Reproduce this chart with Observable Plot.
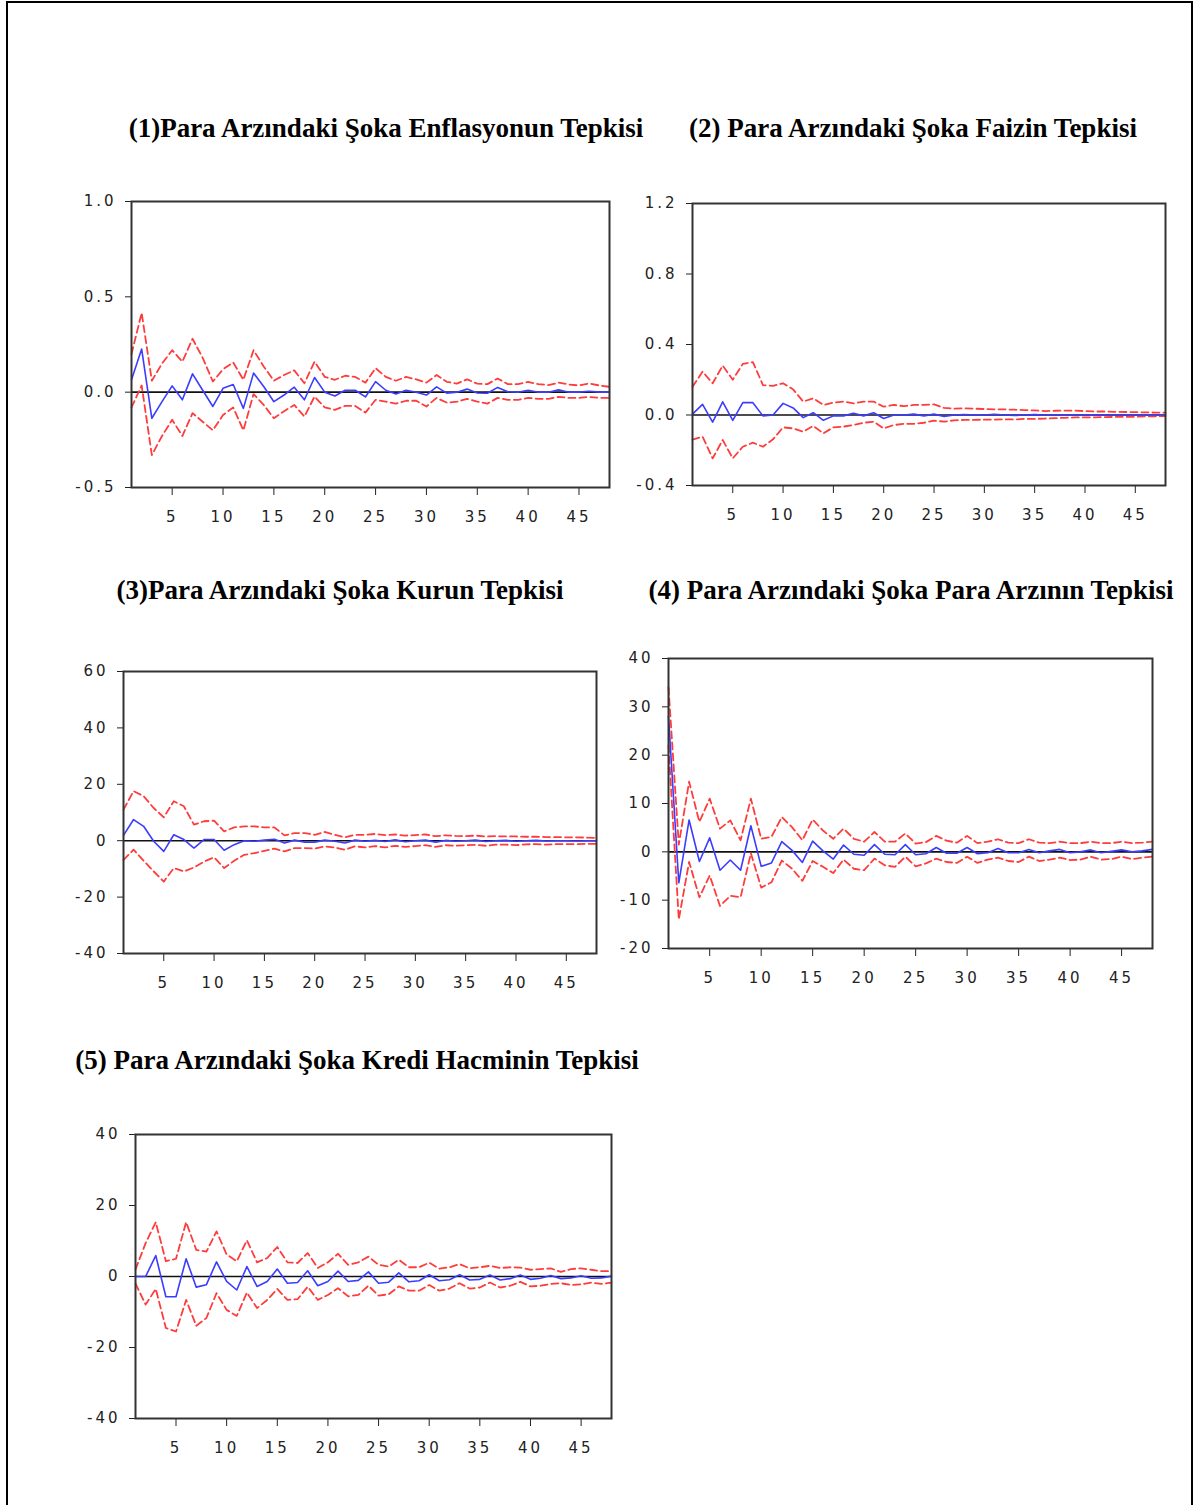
<!DOCTYPE html>
<html>
<head>
<meta charset="utf-8">
<script src="https://cdn.jsdelivr.net/npm/d3@7"></script>
<script src="https://cdn.jsdelivr.net/npm/@observablehq/plot@0.6"></script>
<style>
  html, body { margin: 0; padding: 0; background: #fff; overflow: hidden; }
  #page { position: relative; width: 1198px; height: 1505px; background: #fff; }
  #border { position: absolute; left: 6px; top: 1px; width: 1187px; height: 1540px; border: 2px solid #000; box-sizing: border-box; }
  .title { position: absolute; transform: translateX(-50%); white-space: nowrap;
           font-family: "Liberation Serif", "Times New Roman", serif; font-weight: bold;
           font-size: 27px; line-height: 30px; color: #000; }
  .panel { position: absolute; }
</style>
</head>
<body>
<div id="page"><div id="border"></div></div>
<script>
// ---------- data ----------
const periods = d3.range(1, 49);
const xTicks = [5, 10, 15, 20, 25, 30, 35, 40, 45];

const titles = [
  "(1)Para Arzındaki Şoka Enflasyonun Tepkisi",
  "(2) Para Arzındaki Şoka Faizin Tepkisi",
  "(3)Para Arzındaki Şoka Kurun Tepkisi",
  "(4) Para Arzındaki Şoka Para Arzının Tepkisi",
  "(5) Para Arzındaki Şoka Kredi Hacminin Tepkisi"
];

// (1) Enflasyon
const resp1 = [0.065,0.226,-0.137,-0.05,0.033,-0.04,0.096,0.01,-0.075,0.02,0.04,-0.085,0.10,0.03,-0.05,-0.015,0.026,-0.04,0.077,0.0,-0.02,0.01,0.01,-0.025,0.055,0.01,-0.01,0.01,0.0,-0.015,0.028,-0.005,0.0,0.016,-0.004,-0.006,0.025,0.002,0.0,0.01,0.0,0.0,0.012,0.0,0.0,0.005,0.0,0.0];
const upper1 = [0.20,0.416,0.06,0.15,0.22,0.16,0.28,0.18,0.056,0.12,0.156,0.065,0.22,0.135,0.06,0.09,0.114,0.047,0.16,0.08,0.065,0.086,0.08,0.05,0.126,0.08,0.06,0.08,0.067,0.05,0.09,0.054,0.045,0.067,0.045,0.042,0.072,0.042,0.042,0.054,0.042,0.037,0.05,0.04,0.035,0.046,0.035,0.028];
const lower1 = [-0.08,0.035,-0.33,-0.23,-0.145,-0.23,-0.11,-0.155,-0.2,-0.12,-0.08,-0.2,-0.01,-0.067,-0.137,-0.1,-0.067,-0.128,-0.023,-0.08,-0.093,-0.072,-0.072,-0.107,-0.04,-0.05,-0.06,-0.045,-0.045,-0.075,-0.03,-0.055,-0.05,-0.035,-0.05,-0.06,-0.03,-0.04,-0.04,-0.03,-0.035,-0.035,-0.025,-0.03,-0.03,-0.025,-0.03,-0.03];
const yTicks1 = [-0.5, 0.0, 0.5, 1.0];

// (2) Faiz
const resp2 = [0.005,0.06,-0.04,0.075,-0.03,0.07,0.07,-0.005,0,0.066,0.04,-0.015,0.013,-0.03,-0.005,-0.005,0.01,-0.005,0.013,-0.02,0,0,0.005,-0.005,0.005,-0.008,0,0.003,0,0,0.004,0,-0.003,0,0.002,0,0,0,0,0,0,0,0,0,0,0,0,0];
const upper2 = [0.16,0.246,0.18,0.28,0.2,0.29,0.30,0.17,0.165,0.18,0.145,0.076,0.095,0.057,0.07,0.076,0.066,0.076,0.076,0.047,0.057,0.05,0.057,0.057,0.06,0.04,0.036,0.038,0.036,0.034,0.032,0.032,0.03,0.028,0.026,0.022,0.024,0.025,0.025,0.022,0.02,0.02,0.018,0.017,0.016,0.015,0.014,0.013];
const lower2 = [-0.14,-0.123,-0.246,-0.142,-0.246,-0.18,-0.157,-0.18,-0.138,-0.07,-0.076,-0.095,-0.062,-0.104,-0.07,-0.066,-0.057,-0.044,-0.038,-0.076,-0.057,-0.05,-0.05,-0.044,-0.032,-0.038,-0.03,-0.028,-0.028,-0.026,-0.026,-0.025,-0.025,-0.022,-0.022,-0.02,-0.018,-0.016,-0.014,-0.014,-0.013,-0.012,-0.011,-0.01,-0.01,-0.008,-0.007,-0.006];
const yTicks2 = [-0.4, 0.0, 0.4, 0.8, 1.2];

// (3) Kur
const resp3 = [1.9,7.5,5.1,-0.2,-3.8,2.1,0.4,-2.6,0.4,0.4,-3.4,-1.4,0,-0.2,0.2,0.5,-0.8,0.2,-0.5,-0.5,0.2,-0.2,-0.8,0.2,-0.2,0.1,-0.3,0.3,-0.4,0,0.2,-0.5,0.1,-0.2,0,0.2,-0.3,0,0.1,-0.2,0,0.1,-0.1,0,0,-0.1,0,0];
const upper3 = [11,17.6,15.8,11.6,8.3,14,12.2,5.7,6.9,7.1,3.3,4.7,5.1,5.1,4.7,4.7,1.9,2.7,2.7,2.1,3.1,2.1,1.2,2.1,2.1,2.4,2.0,2.2,1.8,2.0,2.2,1.6,1.9,1.7,1.6,1.8,1.5,1.6,1.5,1.5,1.4,1.4,1.3,1.3,1.2,1.2,1.1,1.0];
const lower3 = [-6.8,-3.2,-7.1,-10.9,-14.5,-9.7,-10.9,-9.5,-7.4,-5.9,-9.7,-7.1,-5,-4.4,-3.6,-2.8,-3.8,-2.6,-2.6,-2.8,-2,-2.4,-3.2,-2,-2.4,-1.9,-2.4,-1.8,-2.2,-1.9,-1.6,-2.2,-1.6,-1.8,-1.6,-1.5,-1.8,-1.4,-1.4,-1.6,-1.3,-1.2,-1.4,-1.2,-1.2,-1.2,-1.1,-1.1];
const yTicks3 = [-40, -20, 0, 20, 40, 60];

// (4) Para arzı
const resp4 = [28,-6.4,6.6,-2,2.9,-3.8,-1.7,-3.8,5.4,-3,-2.3,2.1,0.3,-2.2,2.2,0.2,-1.5,1.4,-0.5,-0.7,1.5,-0.5,-0.6,1.5,-0.6,-0.4,0.9,-0.3,-0.3,0.9,-0.4,-0.2,0.7,-0.2,-0.2,0.5,-0.2,0.2,0.5,-0.2,0,0.4,-0.2,0.1,0.4,0,0.2,0.5];
const upper4 = [34,1.5,14.5,6.2,11,4.8,6.5,2.4,11,2.7,3.1,7.2,5.1,2.4,6.7,4.4,2.7,4.8,2.7,2.1,4.1,2.1,2.1,3.8,1.7,2,3.3,2.3,1.9,3.3,1.8,2.1,2.6,1.9,1.8,2.6,1.9,1.8,2.1,1.8,1.8,2.1,1.8,1.8,2.1,1.8,1.9,2.1];
const lower4 = [22,-14,-2.1,-9.4,-4.9,-11.2,-9.1,-9.4,-0.3,-7.4,-6.3,-1.8,-3.5,-6,-1.9,-3.1,-4.4,-1.6,-3.5,-3.8,-1.4,-2.8,-3.1,-1,-3,-2.4,-1.4,-2.1,-2.3,-1,-2.3,-1.6,-1.2,-1.9,-2.1,-1,-1.9,-1.6,-1.2,-1.7,-1.6,-1,-1.6,-1.5,-1,-1.5,-1.2,-1];
const yTicks4 = [-20, -10, 0, 10, 20, 30, 40];

// (5) Kredi hacmi
const resp5 = [0,0,5.9,-5.7,-5.7,5,-3,-2.3,4.1,-1.4,-3.8,2.8,-2.8,-1.4,2.1,-1.9,-1.7,1.6,-2.6,-1.4,1.5,-1.4,-1.1,1.3,-1.9,-1.6,1,-1.5,-1.2,0.5,-1.2,-0.9,0.5,-1,-0.8,0.4,-1,-0.6,0.4,-0.8,-0.5,0.3,-0.6,-0.4,0.2,-0.5,-0.4,0.1];
const upper5 = [2,9.4,15.3,4.3,5,15.3,7.5,7,12.7,6.2,4.3,10.2,4,5.2,8.3,4,3.8,6.6,2.4,4,6.4,3.3,4,5.6,3.3,2.8,4.7,2.6,2.6,3.9,2.2,2.6,3.5,2.3,2.6,3,2.4,2.6,2.5,1.9,2.1,2.3,1.3,2.1,2.3,1.9,1.5,1.5];
const lower5 = [-2,-7.9,-3.5,-14.5,-15.5,-6.6,-13.9,-11.7,-4.7,-9.4,-11.1,-4.5,-8.9,-6.6,-3.5,-6.6,-6.4,-2.9,-6.6,-5.2,-3.3,-5.6,-5.2,-2.6,-5.4,-5,-2.8,-4,-4,-2.4,-4,-3.4,-1.9,-3.4,-3.1,-1.7,-3.1,-2.6,-1.5,-2.8,-2.6,-2.1,-1.9,-2.4,-2.2,-1.7,-2.1,-1.7];
const yTicks5 = [-40, -20, 0, 20, 40];

// ---------- layout (page coordinates) ----------
const panels = [
  {title: titles[0], tx: 386, ty: 128, frame: [131, 201, 609, 487], resp: resp1, upper: upper1, lower: lower1, yTicks: yTicks1, fmt: d => d.toFixed(1)},
  {title: titles[1], tx: 913, ty: 128, frame: [692, 203, 1165, 485], resp: resp2, upper: upper2, lower: lower2, yTicks: yTicks2, fmt: d => d.toFixed(1)},
  {title: titles[2], tx: 340, ty: 590, frame: [123, 671, 596, 953], resp: resp3, upper: upper3, lower: lower3, yTicks: yTicks3, fmt: d => String(d)},
  {title: titles[3], tx: 911, ty: 590, frame: [668, 658, 1152, 948], resp: resp4, upper: upper4, lower: lower4, yTicks: yTicks4, fmt: d => String(d)},
  {title: titles[4], tx: 357, ty: 1060, frame: [135, 1134, 611, 1418], resp: resp5, upper: upper5, lower: lower5, yTicks: yTicks5, fmt: d => String(d)}
];

const page = document.getElementById("page");

for (const cfg of panels) {
  const t = document.createElement("div");
  t.className = "title";
  t.textContent = cfg.title;
  t.style.left = cfg.tx + "px";
  t.style.top = (cfg.ty - 15) + "px";
  page.appendChild(t);

  const [fl, ft, fr, fb] = cfg.frame;
  const padL = 100, padR = 20, padT = 15, padB = 55;
  const rows = periods.map((p, i) => ({p, resp: cfg.resp[i], up: cfg.upper[i], lo: cfg.lower[i]}));
  const yDomain = d3.extent(cfg.yTicks);
  const chart = Plot.plot({
    width: fr - fl + padL + padR,
    height: fb - ft + padT + padB,
    marginLeft: padL, marginRight: padR, marginTop: padT, marginBottom: padB,
    x: {domain: [1, 48], ticks: xTicks, tickSize: 8, tickPadding: 16, tickFormat: d => String(d), label: null},
    y: {domain: yDomain, ticks: cfg.yTicks, tickSize: 6, tickPadding: 9, tickFormat: cfg.fmt, label: null},
    style: {fontFamily: "'DejaVu Sans', sans-serif", fontSize: "15px", color: "#222", background: "transparent", letterSpacing: "3px"},
    marks: [
      Plot.ruleY([0], {stroke: "#111", strokeWidth: 1.6}),
      Plot.lineY(rows, {x: "p", y: "up", stroke: "#ff3c3c", strokeWidth: 1.8, strokeDasharray: "7,4"}),
      Plot.lineY(rows, {x: "p", y: "lo", stroke: "#ff3c3c", strokeWidth: 1.8, strokeDasharray: "7,4"}),
      Plot.lineY(rows, {x: "p", y: "resp", stroke: "#3c3cff", strokeWidth: 1.6}),
      Plot.frame({stroke: "#333", strokeWidth: 2})
    ]
  });
  chart.classList.add("panel");
  chart.style.left = (fl - padL) + "px";
  chart.style.top = (ft - padT) + "px";
  page.appendChild(chart);
}
</script>
</body>
</html>
